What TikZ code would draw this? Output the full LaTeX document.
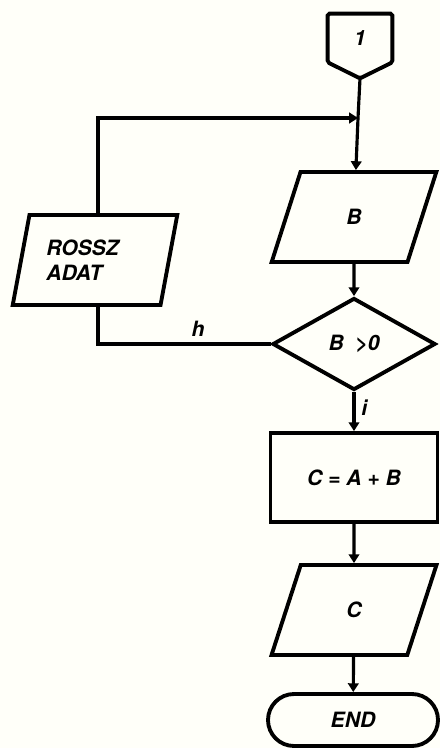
\documentclass[tikz,border=0pt]{standalone}
\usepackage{fontspec}
\setsansfont{TeX Gyre Heros}
\usetikzlibrary{arrows.meta, shapes.geometric, positioning}
\definecolor{Paper}{RGB}{255,255,249}

\begin{document}
\begin{tikzpicture}[
  font=\sffamily\bfseries\itshape\large,
  io/.style={
    draw,
    trapezium,
    trapezium left angle=75,
    trapezium right angle=105,
    trapezium stretches=true,
    line width=2.2pt,
    minimum width=3.3cm,
    minimum height=1.8cm,
    align=left
  },
  box/.style={
    draw,
    line width=2.2pt,
    minimum width=3.34cm,
    minimum height=1.78cm
  },
  decision/.style={
    draw,
    diamond,
    line width=2.2pt,
    minimum width=3.26cm,
    minimum height=1.7cm
  },
  terminal/.style={
    draw,
    rounded corners=0.52cm,
    line width=2.2pt,
    minimum width=3.4cm,
    minimum height=1.04cm
  },
  line/.style={line width=1.8pt},
  arrow/.style={line, -{Triangle[length=5pt, width=6pt]}}
]

% paper
\fill[Paper] (0,0) rectangle (8.8,-14.96);
\useasboundingbox (0,0) rectangle (8.8,-14.96);

% connector 1
\node[minimum width=1.28cm, minimum height=0.96cm] (con) at (7.2,-0.76) {1};
\coordinate[below=0.32cm of con.south] (tip);
\draw[line width=2.2pt, rounded corners=1pt]
  (con.south west) |- (con.north east) -- (con.south east) -- (tip) -- cycle;

\coordinate (join) at (7.16,-2.36);

\node[io] (in) at (7.08,-4.34) {B};

\node[decision] (dec) at (7.08,-6.88) {B \ >0};

\node[box] (sum) at (7.08,-9.55) {C = A + B};

\node[io] (out) at (7.08,-12.2) {C};

\node[terminal] (end) at (7.06,-14.4) {END};

% text sits to the left in this one
\node[io] (bad) at (1.9,-5.2) {ROSSZ\hspace*{0.5cm}\\ADAT};

% main column
\draw[line] (tip) -- (join);
\draw[arrow] (join) -- (in);
\draw[arrow] (in) -- (dec);
\draw[arrow] (dec) -- node[right, pos=0.4]{i} (sum);
\draw[arrow] (sum) -- (out);
\draw[arrow] (out) -- (end);

% error loop
\draw[line] (dec.west) -| node[above, pos=0.21]{h} ([xshift=0.06cm]bad.south);
\draw[arrow] ([xshift=0.06cm]bad.north) |- (join);

\end{tikzpicture}
\end{document}
